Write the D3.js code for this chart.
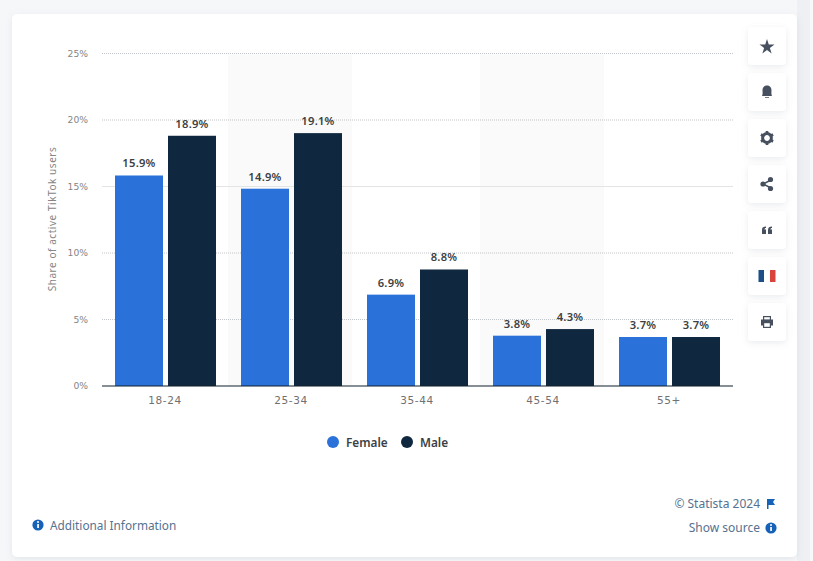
<!DOCTYPE html>
<html>
<head>
<meta charset="utf-8">
<script src="https://cdn.jsdelivr.net/npm/d3@7"></script>
<style>
	html, body { margin: 0; padding: 0; background: #f6f7f9; overflow: hidden; }
	svg { display: block; font-family: "Noto Sans", sans-serif; }
</style>
</head>
<body>
<svg id="chart" width="813" height="561"></svg>
<script>
'use strict';

const categories = ['18-24', '25-34', '35-44', '45-54', '55+'];
const seriesNames = ['Female', 'Male'];
const femaleValues = [15.9, 14.9, 6.9, 3.8, 3.7];
const maleValues = [18.9, 19.1, 8.8, 4.3, 3.7];
const yTicks = [0, 5, 10, 15, 20, 25];
const shadedCategories = ['25-34', '45-54'];
const solidGridTicks = [15];
const colors = { Female: '#2a72d9', Male: '#10283f' };

const svg = d3.select('#chart');

// page and card
let defs = svg.append('defs');
let shadow = defs.append('filter').attr('id', 'soft')
	.attr('x', '-30%').attr('y', '-30%').attr('width', '160%').attr('height', '160%');
shadow.append('feDropShadow')
	.attr('dx', 0).attr('dy', 2).attr('stdDeviation', 3)
	.attr('flood-color', '#7c8798').attr('flood-opacity', 0.16);

svg.append('rect').attr('x', 797).attr('y', 0).attr('width', 16).attr('height', 561).attr('fill', '#eef0f3');
svg.append('rect').attr('x', 810).attr('y', 0).attr('width', 3).attr('height', 561).attr('fill', '#f7f8fa');
svg.append('rect')
	.attr('x', 12).attr('y', 14).attr('width', 785).attr('height', 543).attr('rx', 5)
	.attr('fill', '#fff').attr('filter', 'url(#soft)');

// scales, the bars sit a touch below the grid in the source
let x = d3.scaleBand().domain(categories).range([102, 732]);
let xInner = d3.scaleBand().domain(seriesNames).range([13, 114]).paddingInner(5 / 53);
let y = d3.scaleLinear().domain([0, 25]).range([386, 53.5]);
let barY = d3.scaleLinear().domain([0, 25]).range([386, 55]);

// shaded columns
svg.append('g').selectAll('rect')
	.data(shadedCategories)
	.join('rect')
	.attr('x', d => x(d))
	.attr('y', y(25) + 1)
	.attr('width', x.bandwidth() - 2)
	.attr('height', y(0) - y(25) - 1)
	.attr('fill', '#fafafa');

// grid
svg.append('g').selectAll('line')
	.data(yTicks.filter(d => d > 0))
	.join('line')
	.attr('x1', 102)
	.attr('x2', 733)
	.attr('y1', d => y(d))
	.attr('y2', d => y(d))
	.attr('stroke', d => solidGridTicks.includes(d) ? '#e2e4e6' : '#c2c5c9')
	.attr('stroke-dasharray', d => solidGridTicks.includes(d) ? null : '1 1');

// y axis
let yAxis = d3.axisLeft(y).tickValues(yTicks).tickSize(0).tickPadding(0).tickFormat(d => d + '%');
let yAxisG = svg.append('g').attr('transform', 'translate(88,0)').call(yAxis);
yAxisG.select('.domain').remove();
yAxisG.selectAll('text')
	.attr('fill', '#858585')
	.attr('font-size', 9.2)
	.attr('font-family', '"DejaVu Sans", sans-serif');

svg.append('text')
	.attr('transform', 'translate(56,219) rotate(-90)')
	.attr('text-anchor', 'middle')
	.attr('fill', '#858585')
	.attr('font-size', 10)
	.attr('letter-spacing', 0.55)
	.text('Share of active TikTok users');

// bars
let groups = svg.append('g').selectAll('g')
	.data(categories.map((c, i) => ({ c, values: [femaleValues[i], maleValues[i]] })))
	.join('g')
	.attr('transform', d => `translate(${x(d.c)},0)`);

groups.selectAll('rect')
	.data(d => seriesNames.map((s, i) => ({ s, v: d.values[i] })))
	.join('rect')
	.attr('x', d => xInner(d.s))
	.attr('y', d => barY(d.v))
	.attr('width', xInner.bandwidth())
	.attr('height', d => barY(0) - barY(d.v))
	.attr('fill', d => colors[d.s]);

groups.selectAll('text')
	.data(d => seriesNames.map((s, i) => ({ s, v: d.values[i] })))
	.join('text')
	.attr('x', d => xInner(d.s) + xInner.bandwidth() / 2)
	.attr('y', d => barY(d.v) - 8)
	.attr('text-anchor', 'middle')
	.attr('fill', '#3c3f44')
	.attr('font-size', 11.2)
	.attr('font-weight', 600)
	.attr('letter-spacing', 0.25)
	.text(d => d.v.toFixed(1) + '%');

// x axis
let xAxis = d3.axisBottom(x).tickSize(0).tickPadding(0);
let xAxisG = svg.append('g').attr('transform', 'translate(0,386)').call(xAxis);
xAxisG.select('.domain').remove();
xAxisG.selectAll('text')
	.attr('y', 11)
	.attr('fill', '#707070')
	.attr('font-size', 10.5)
	.attr('letter-spacing', 0.6)
	.attr('font-family', '"DejaVu Sans", sans-serif');
svg.append('line')
	.attr('x1', 102).attr('x2', 733).attr('y1', 386).attr('y2', 386)
	.attr('stroke', '#10202f').attr('stroke-width', 1.2);

// legend
let legendX = { Female: 333, Male: 407 };
let legend = svg.append('g').selectAll('g')
	.data(seriesNames)
	.join('g')
	.attr('transform', d => `translate(${legendX[d]},442)`);
legend.append('circle').attr('r', 6).attr('fill', d => colors[d]);
legend.append('text')
	.attr('x', 13).attr('y', 5)
	.attr('fill', '#3c3f44')
	.attr('font-size', 11.8)
	.attr('font-weight', 600)
	.text(d => d);

// side buttons
let buttonTops = [27, 73, 119, 165, 211, 257, 303];
let buttons = svg.append('g').selectAll('g')
	.data(buttonTops)
	.join('g')
	.attr('transform', d => `translate(767,${d + 19})`);
buttons.append('rect')
	.attr('x', -19).attr('y', -19).attr('width', 38).attr('height', 38).attr('rx', 4)
	.attr('fill', '#fff').attr('filter', 'url(#soft)');

const iconColor = '#46505f';
// star
d3.select(buttons.nodes()[0]).append('path')
	.attr('d', d3.symbol(d3.symbolStar, 70)())
	.attr('transform', 'translate(0,1)')
	.attr('fill', iconColor);
// bell
d3.select(buttons.nodes()[1]).append('path')
	.attr('d', 'M-5,4 C-4,2 -4.5,0 -4.5,-1.5 C-4.5,-5 -2.5,-6.5 0,-6.5 C2.5,-6.5 4.5,-5 4.5,-1.5 C4.5,0 4,2 5,4 Z M-2,5.2 H2 V6 H-2 Z')
	.attr('fill', iconColor);
// gear
let gear = d3.select(buttons.nodes()[2]);
gear.append('circle').attr('r', 4.4).attr('fill', 'none').attr('stroke', iconColor).attr('stroke-width', 3);
gear.selectAll('line').data(d3.range(6)).join('line')
	.attr('x1', 0).attr('y1', -5).attr('x2', 0).attr('y2', -7)
	.attr('transform', d => `rotate(${d * 60})`)
	.attr('stroke', iconColor).attr('stroke-width', 2.6);
// share
let share = d3.select(buttons.nodes()[3]);
share.append('path').attr('d', 'M4,-4 L-4,0 L4,4').attr('fill', 'none').attr('stroke', iconColor).attr('stroke-width', 1.5);
share.selectAll('circle').data([[3.5, -4.5], [-4, 0], [3.5, 4.5]]).join('circle')
	.attr('cx', d => d[0]).attr('cy', d => d[1]).attr('r', 2.6).attr('fill', iconColor);
// quote
let quote = d3.select(buttons.nodes()[4]);
quote.selectAll('path').data([-5, 1]).join('path')
	.attr('d', d => `M${d},4 V0 C${d},-2.5 ${d + 1.5},-3.5 ${d + 4},-3.5 V-2 C${d + 3},-2 ${d + 2.5},-1.5 ${d + 2.5},-0.5 H${d + 4} V4 Z`)
	.attr('fill', iconColor);
// flag
let flag = d3.select(buttons.nodes()[5]);
flag.append('rect').attr('x', -8.5).attr('y', -6).attr('width', 5.5).attr('height', 12).attr('fill', '#1d4f86');
flag.append('rect').attr('x', -3).attr('y', -6).attr('width', 6).attr('height', 12).attr('fill', '#fff');
flag.append('rect').attr('x', 3).attr('y', -6).attr('width', 5.5).attr('height', 12).attr('fill', '#d8433d');
// print
let print = d3.select(buttons.nodes()[6]);
print.append('path')
	.attr('d', 'M-4,-6 H4 V-2.5 H6 V3.5 H4 V6 H-4 V3.5 H-6 V-2.5 H-4 Z')
	.attr('fill', iconColor);
print.append('rect').attr('x', -2.8).attr('y', -4.8).attr('width', 5.6).attr('height', 2.2).attr('fill', '#fff');
print.append('rect').attr('x', -2.8).attr('y', 1.2).attr('width', 5.6).attr('height', 3.6).attr('fill', '#fff');

// footer
function infoIcon(cx, cy) {
	let g = svg.append('g').attr('transform', `translate(${cx},${cy})`);
	g.append('circle').attr('r', 5.6).attr('fill', '#1662b8');
	g.append('rect').attr('x', -0.8).attr('y', -1).attr('width', 1.7).attr('height', 4).attr('fill', '#fff');
	g.append('circle').attr('cx', 0).attr('cy', -3).attr('r', 1).attr('fill', '#fff');
}
infoIcon(38, 525);
svg.append('text')
	.attr('x', 50).attr('y', 530)
	.attr('fill', '#55728f')
	.attr('font-size', 11.8)
	.text('Additional Information');
svg.append('text')
	.attr('x', 760).attr('y', 508)
	.attr('text-anchor', 'end')
	.attr('fill', '#55728f')
	.attr('font-size', 12)
	.text('© Statista 2024');
svg.append('path')
	.attr('d', 'M767,499 H775 L773,502 L775,505 H768.5 V509 H767 Z')
	.attr('fill', '#1662b8');
svg.append('text')
	.attr('x', 760).attr('y', 532)
	.attr('text-anchor', 'end')
	.attr('fill', '#55728f')
	.attr('font-size', 12)
	.text('Show source');
infoIcon(771, 528);
</script>
</body>
</html>
